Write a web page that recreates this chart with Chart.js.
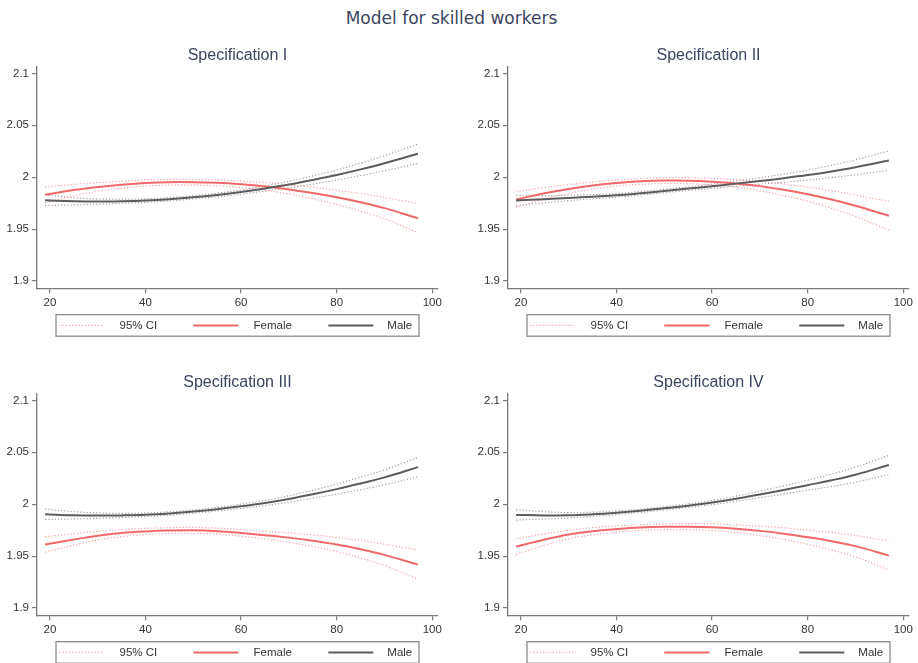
<!DOCTYPE html>
<html>
<head>
<meta charset="utf-8">
<script src="https://cdn.jsdelivr.net/npm/chart.js@4.4.1/dist/chart.umd.min.js"></script>
<style>
  html, body { margin: 0; padding: 0; background: #fff; width: 918px; height: 663px; overflow: hidden; }
  #mainTitle { position: absolute; left: 0; top: 8px; width: 903px; text-align: center;
               font: 17px 'DejaVu Sans', sans-serif; line-height: 20px; color: #3a4560; }
  canvas { position: absolute; }
</style>
</head>
<body>
<div id="mainTitle">Model for skilled workers</div>
<canvas id="spec1" width="446" height="300" style="left:0px;top:40px"></canvas>
<canvas id="spec2" width="446" height="300" style="left:471px;top:40px"></canvas>
<canvas id="spec3" width="446" height="300" style="left:0px;top:367px"></canvas>
<canvas id="spec4" width="446" height="300" style="left:471px;top:367px"></canvas>
<script>
// Age grid and axis ticks
const ages   = [19, 25, 30, 35, 40, 45, 50, 55, 60, 65, 70, 75, 80, 85, 90, 97];
const xTicks = [20, 40, 60, 80, 100];
const yTicks = [1.9, 1.95, 2, 2.05, 2.1];
const specTitles   = ['Specification I', 'Specification II', 'Specification III', 'Specification IV'];
const legendLabels = ['95% CI', 'Female', 'Male'];

// Specification I
const femaleEst1  = [1.9830, 1.9876, 1.9906, 1.9928, 1.9944, 1.9952, 1.9952, 1.9946, 1.9932, 1.9911, 1.9882, 1.9847, 1.9806, 1.9758, 1.9702, 1.9605];
const femaleHigh1 = [1.9905, 1.9931, 1.9948, 1.9962, 1.9974, 1.9980, 1.9980, 1.9975, 1.9964, 1.9948, 1.9927, 1.9903, 1.9874, 1.9843, 1.9805, 1.9745];
const femaleLow1  = [1.9755, 1.9821, 1.9864, 1.9894, 1.9914, 1.9924, 1.9924, 1.9917, 1.9900, 1.9874, 1.9837, 1.9791, 1.9738, 1.9673, 1.9599, 1.9465];
const maleEst1    = [1.9777, 1.9768, 1.9765, 1.9768, 1.9775, 1.9788, 1.9806, 1.9829, 1.9857, 1.9891, 1.9929, 1.9973, 2.0021, 2.0075, 2.0134, 2.0225];
const maleHigh1   = [1.9827, 1.9803, 1.9791, 1.9788, 1.9792, 1.9804, 1.9822, 1.9846, 1.9877, 1.9916, 1.9960, 2.0012, 2.0069, 2.0135, 2.0206, 2.0318];
const maleLow1    = [1.9727, 1.9733, 1.9739, 1.9748, 1.9758, 1.9772, 1.9790, 1.9812, 1.9837, 1.9866, 1.9898, 1.9934, 1.9973, 2.0015, 2.0062, 2.0132];

// Specification II
const femaleEst2  = [1.9785, 1.9846, 1.9887, 1.9919, 1.9944, 1.9960, 1.9967, 1.9966, 1.9957, 1.9940, 1.9914, 1.9879, 1.9836, 1.9785, 1.9725, 1.9628];
const femaleHigh2 = [1.9860, 1.9901, 1.9929, 1.9953, 1.9974, 1.9988, 1.9995, 1.9995, 1.9989, 1.9977, 1.9959, 1.9935, 1.9904, 1.9870, 1.9828, 1.9768];
const femaleLow2  = [1.9710, 1.9791, 1.9845, 1.9885, 1.9914, 1.9932, 1.9939, 1.9937, 1.9925, 1.9903, 1.9869, 1.9823, 1.9768, 1.9700, 1.9622, 1.9488];
const maleEst2    = [1.9776, 1.9788, 1.9800, 1.9812, 1.9825, 1.9845, 1.9867, 1.9890, 1.9913, 1.9938, 1.9963, 1.9990, 2.0020, 2.0055, 2.0095, 2.0160];
const maleHigh2   = [1.9826, 1.9823, 1.9826, 1.9832, 1.9842, 1.9861, 1.9883, 1.9907, 1.9933, 1.9963, 1.9994, 2.0029, 2.0068, 2.0115, 2.0167, 2.0253];
const maleLow2    = [1.9726, 1.9753, 1.9774, 1.9792, 1.9808, 1.9829, 1.9851, 1.9873, 1.9893, 1.9913, 1.9932, 1.9951, 1.9972, 1.9995, 2.0023, 2.0067];

// Specification III
const femaleEst3  = [1.9612, 1.9660, 1.9697, 1.9722, 1.9737, 1.9746, 1.9748, 1.9740, 1.9723, 1.9702, 1.9678, 1.9648, 1.9612, 1.9567, 1.9512, 1.9418];
const femaleHigh3 = [1.9687, 1.9715, 1.9739, 1.9756, 1.9767, 1.9774, 1.9776, 1.9769, 1.9755, 1.9739, 1.9723, 1.9704, 1.9680, 1.9652, 1.9615, 1.9558];
const femaleLow3  = [1.9537, 1.9605, 1.9655, 1.9688, 1.9707, 1.9718, 1.9720, 1.9711, 1.9691, 1.9665, 1.9633, 1.9592, 1.9544, 1.9482, 1.9409, 1.9278];
const maleEst3    = [1.9903, 1.9893, 1.9890, 1.9892, 1.9898, 1.9911, 1.9929, 1.9952, 1.9980, 2.0012, 2.0050, 2.0095, 2.0145, 2.0200, 2.0258, 2.0357];
const maleHigh3   = [1.9953, 1.9928, 1.9916, 1.9912, 1.9915, 1.9927, 1.9945, 1.9969, 2.0000, 2.0037, 2.0081, 2.0134, 2.0193, 2.0260, 2.0330, 2.0450];
const maleLow3    = [1.9853, 1.9858, 1.9864, 1.9872, 1.9881, 1.9895, 1.9913, 1.9935, 1.9960, 1.9987, 2.0019, 2.0056, 2.0097, 2.0140, 2.0186, 2.0264];

// Specification IV
const femaleEst4  = [1.9592, 1.9660, 1.9708, 1.9740, 1.9760, 1.9775, 1.9782, 1.9783, 1.9778, 1.9764, 1.9743, 1.9716, 1.9682, 1.9643, 1.9596, 1.9505];
const femaleHigh4 = [1.9667, 1.9715, 1.9750, 1.9774, 1.9790, 1.9803, 1.9810, 1.9812, 1.9810, 1.9801, 1.9788, 1.9772, 1.9750, 1.9728, 1.9699, 1.9645];
const femaleLow4  = [1.9517, 1.9605, 1.9666, 1.9706, 1.9730, 1.9747, 1.9754, 1.9754, 1.9746, 1.9727, 1.9698, 1.9660, 1.9614, 1.9558, 1.9493, 1.9365];
const maleEst4    = [1.9897, 1.9892, 1.9893, 1.9903, 1.9918, 1.9937, 1.9960, 1.9986, 2.0016, 2.0052, 2.0094, 2.0137, 2.0183, 2.0230, 2.0284, 2.0378];
const maleHigh4   = [1.9947, 1.9927, 1.9919, 1.9923, 1.9935, 1.9953, 1.9976, 2.0003, 2.0036, 2.0077, 2.0125, 2.0176, 2.0231, 2.0290, 2.0356, 2.0471];
const maleLow4    = [1.9847, 1.9857, 1.9867, 1.9883, 1.9901, 1.9921, 1.9944, 1.9969, 1.9996, 2.0027, 2.0063, 2.0098, 2.0135, 2.0170, 2.0212, 2.0285];

// Styling
const FEMALE    = '#f26868';
const MALE      = '#5c5c5c';
const FEMALE_CI = '#f4a4a4';
const MALE_CI   = '#a99d9d';
const AXIS      = '#7a7a7a';
const DOTS      = [1.2, 2];
const FONT      = "'Liberation Sans', Arial, sans-serif";

Chart.defaults.font.family = FONT;

// Panel subtitle and boxed legend under the x axis
const panelDecor = {
  id: 'panelDecor',
  afterDraw(chart, args, opts) {
    const { ctx, chartArea: a } = chart;
    const cx = (a.left + a.right) / 2;
    ctx.save();
    ctx.fillStyle = '#3a4560';
    ctx.font = '16px ' + FONT;
    ctx.textAlign = 'center';
    ctx.textBaseline = 'middle';
    ctx.fillText(opts.title, cx, a.top - 11);

    const bw = 363, bh = 21.5;
    const bx = cx - bw / 2, by = a.bottom + 26.4;
    ctx.strokeStyle = '#8a8a8a';
    ctx.lineWidth = 1.3;
    ctx.strokeRect(bx, by, bw, bh);
    const my = by + bh / 2;
    const keys = [
      { color: FEMALE_CI, width: 1.2, dash: DOTS, x0: 3.3,   x1: 48.3,  tx: 63.5 },
      { color: FEMALE,    width: 2,   dash: [],   x0: 137.3, x1: 182.6, tx: 197.5 },
      { color: MALE,      width: 2,   dash: [],   x0: 272.3, x1: 317.3, tx: 331.3 }
    ];
    ctx.font = '11.5px ' + FONT;
    ctx.textAlign = 'left';
    keys.forEach((k, i) => {
      ctx.beginPath();
      ctx.setLineDash(k.dash);
      ctx.strokeStyle = k.color;
      ctx.lineWidth = k.width;
      ctx.moveTo(bx + k.x0, my);
      ctx.lineTo(bx + k.x1, my);
      ctx.stroke();
      ctx.setLineDash([]);
      ctx.fillStyle = '#333';
      ctx.fillText(legendLabels[i], bx + k.tx, my + 0.5);
    });
    ctx.restore();
  }
};

function series(values, color, width, dash) {
  return {
    data: ages.map((a, i) => ({ x: a, y: values[i] })),
    borderColor: color,
    borderWidth: width,
    borderDash: dash || [],
    pointRadius: 0,
    tension: 0.4,
    fill: false
  };
}

function axisCommon() {
  return {
    grid: { display: true, drawOnChartArea: false, drawTicks: true, tickLength: 5, color: AXIS, lineWidth: 1.2 },
    border: { display: true, color: AXIS, width: 1.3 },
    ticks: { color: '#333', font: { size: 11.5 }, padding: 3, autoSkip: false, maxRotation: 0,
             callback: v => String(v) }
  };
}

function makePanel(id, title, fEst, fLow, fHigh, mEst, mLow, mHigh) {
  const xAxis = Object.assign(axisCommon(), {
    type: 'linear', min: 17.3, max: 101.2,
    afterBuildTicks: s => { s.ticks = xTicks.map(v => ({ value: v })); },
    afterFit: s => { s.height = 20; }
  });
  const yAxis = Object.assign(axisCommon(), {
    type: 'linear', min: 1.893, max: 2.1064,
    afterBuildTicks: s => { s.ticks = yTicks.map(v => ({ value: v })); },
    afterFit: s => { s.width = 37; }
  });
  new Chart(document.getElementById(id), {
    type: 'line',
    data: {
      datasets: [
        series(mEst, MALE, 2),
        series(fEst, FEMALE, 2),
        series(mHigh, MALE_CI, 1.2, DOTS),
        series(mLow, MALE_CI, 1.2, DOTS),
        series(fHigh, FEMALE_CI, 1.2, DOTS),
        series(fLow, FEMALE_CI, 1.2, DOTS)
      ]
    },
    options: {
      responsive: false,
      animation: false,
      devicePixelRatio: 1,
      layout: { padding: { left: 0, right: 8, top: 26.7, bottom: 31.7 } },
      scales: { x: xAxis, y: yAxis },
      plugins: {
        legend: { display: false },
        title: { display: false },
        tooltip: { enabled: false },
        panelDecor: { title: title }
      }
    },
    plugins: [panelDecor]
  });
}

makePanel('spec1', specTitles[0], femaleEst1, femaleLow1, femaleHigh1, maleEst1, maleLow1, maleHigh1);
makePanel('spec2', specTitles[1], femaleEst2, femaleLow2, femaleHigh2, maleEst2, maleLow2, maleHigh2);
makePanel('spec3', specTitles[2], femaleEst3, femaleLow3, femaleHigh3, maleEst3, maleLow3, maleHigh3);
makePanel('spec4', specTitles[3], femaleEst4, femaleLow4, femaleHigh4, maleEst4, maleLow4, maleHigh4);
</script>
</body>
</html>
